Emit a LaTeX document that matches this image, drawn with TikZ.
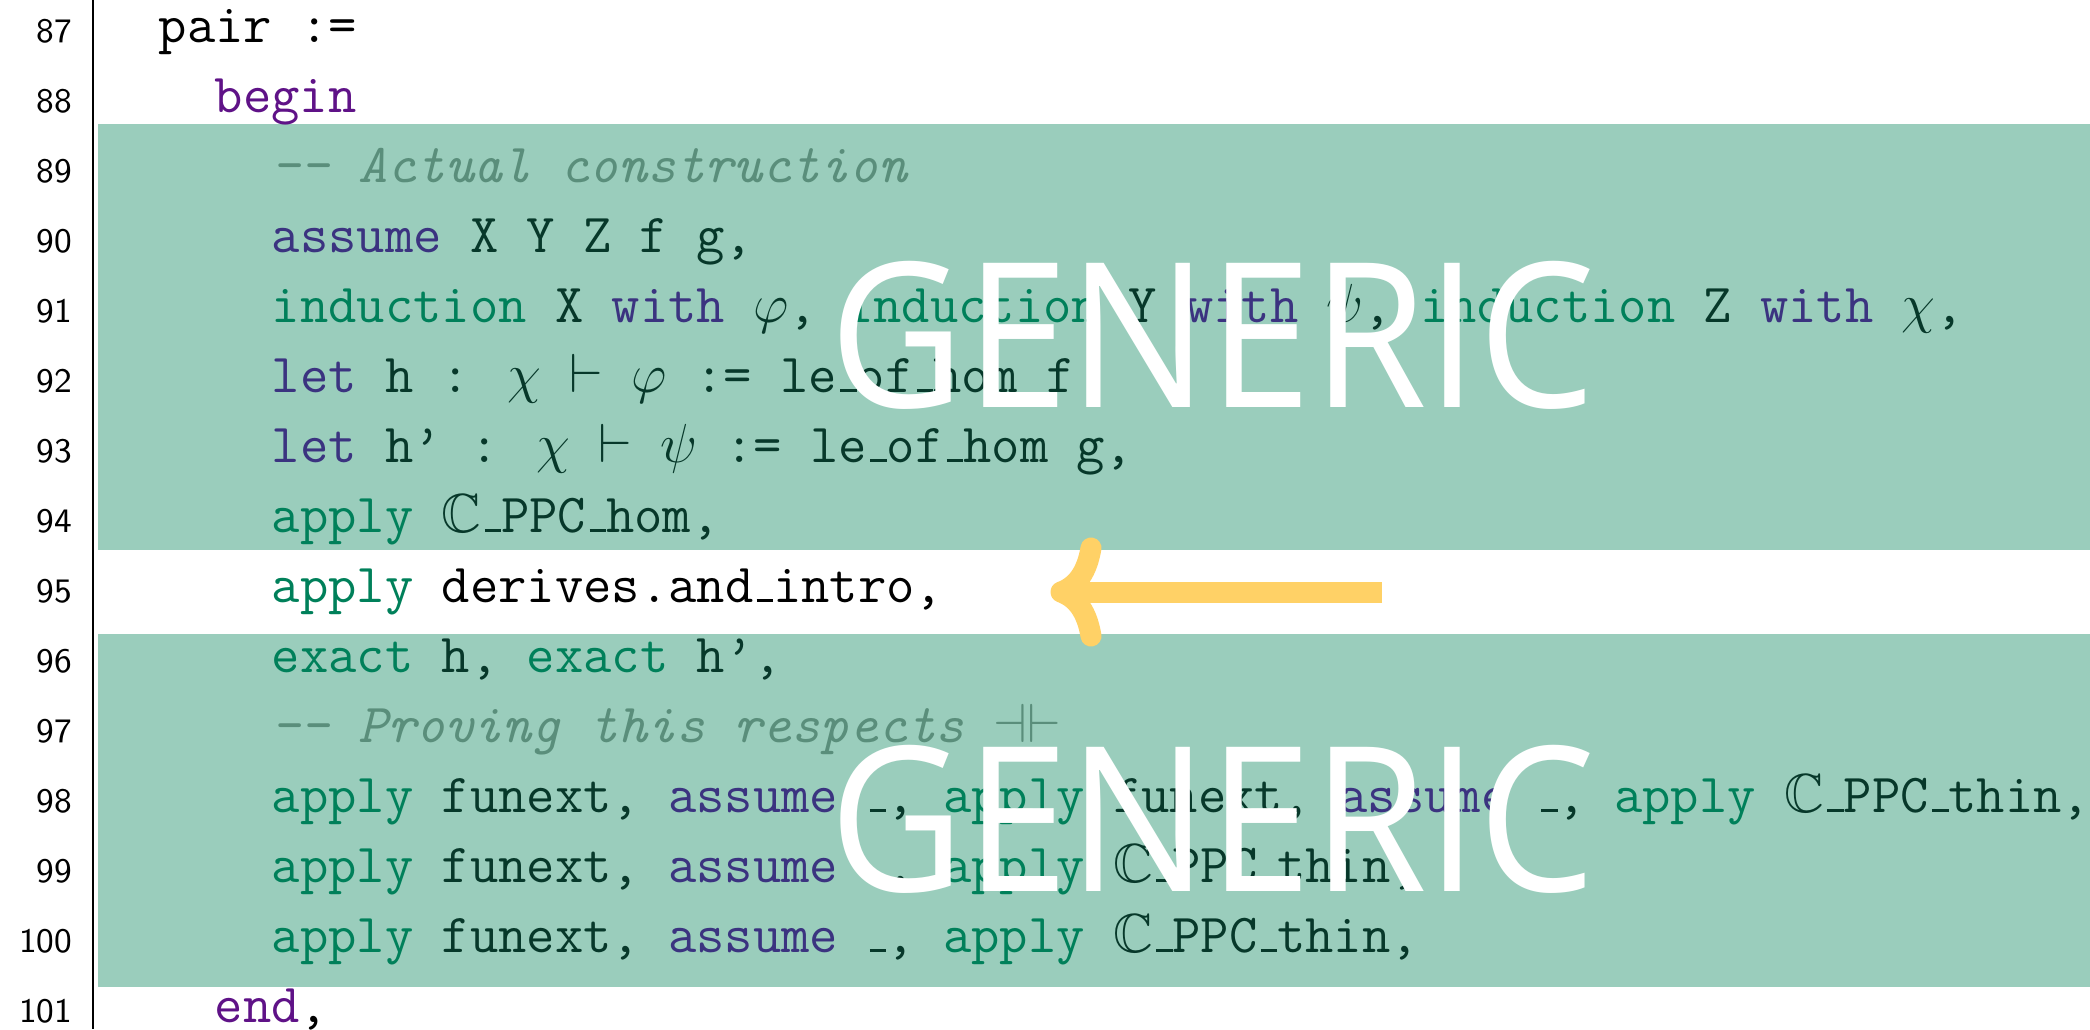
\RequirePackage{fix-cm}
\documentclass[tikz,border=0pt]{standalone}
\usepackage{amssymb}
\usepackage{fontspec}
\newfontfamily\genfont{Open Sans}

\definecolor{hlgreen}{HTML}{9ACDBC}
\definecolor{idgreen}{HTML}{07382A}
\definecolor{cmtgreen}{HTML}{5A8E7B}
\definecolor{kwgreen}{HTML}{00805A}
\definecolor{kwblue}{HTML}{3B3380}
\definecolor{kwpurple}{HTML}{5F1287}
\definecolor{arrowyellow}{HTML}{FFD166}

\newcommand\codefont{\fontsize{13.75}{16}\ttfamily}
\newcommand\numfont{\fontsize{8.6}{10}\sffamily}
\newcommand\gfont{\fontsize{50.5}{60}\genfont}
\newcommand\us{\kern.06em\vbox{\hrule height .06em width .3em}}
\newcommand\kwa[1]{\textcolor{kwgreen}{#1}}
\newcommand\kwb[1]{\textcolor{kwblue}{#1}}
\newcommand\kwc[1]{\textcolor{kwpurple}{#1}}
\newcommand\cmt[1]{\textcolor{cmtgreen}{\itshape #1}}

\begin{document}
\begin{tikzpicture}[x=0.25pt, y=-0.25pt,
  lnum/.style={anchor=base east, inner sep=0pt, font=\numfont},
  code/.style={anchor=base west, inner sep=0pt, font=\codefont},
  hl/.style={code, text=idgreen},
  generic/.style={anchor=base, inner sep=0pt, text=white, font=\gfont},
  arrowline/.style={draw=arrowyellow, line width=5.25pt}]
\useasboundingbox (0,0) rectangle (2090,1029);
% Draw highlight bands
\fill[hlgreen] (98,124) rectangle (2090,550);
\fill[hlgreen] (98,634) rectangle (2090,987);
% Draw gutter
\draw[line width=0.4pt] (93,0) -- (93,1029);
% Draw line numbers
\foreach \n in {87,...,101}
    \node[lnum] (n\n) at (73,{42+(\n-87)*70}) {\n};
% Draw code lines
\node[code] (l87) at (158,42) {pair :=};
\node[code] (l88) at (214,112) {\kwc{begin}};
\node[hl] (l89) at (271,182) {\cmt{-{}- Actual construction}};
\node[hl] (l90) at (271,252) {\kwb{assume} X Y Z f g,};
\node[hl] (l91) at (271,322) {\kwa{induction} X \kwb{with} $\varphi$, \kwa{induction} Y \kwb{with} $\psi$, \kwa{induction} Z \kwb{with} $\chi$,};
\node[hl] (l92) at (271,392) {\kwb{let} h : $\chi$ $\vdash$ $\varphi$ := le\us of\us hom f};
\node[hl] (l93) at (271,462) {\kwb{let} h’ : $\chi$ $\vdash$ $\psi$ := le\us of\us hom g,};
\node[hl] (l94) at (271,532) {\kwa{apply} $\mathbb{C}$\us PPC\us hom,};
\node[code] (l95) at (271,602) {\kwa{apply} derives.and\us intro,};
\node[hl] (l96) at (271,672) {\kwa{exact} h, \kwa{exact} h’,};
\node[hl] (l97) at (271,742) {\cmt{-{}- Proving this respects $\dashv\vdash$}};
\node[hl] (l98) at (271,812) {\kwa{apply} funext, \kwb{assume} \us, \kwa{apply} funext, \kwb{assume} \us, \kwa{apply} $\mathbb{C}$\us PPC\us thin,};
\node[hl] (l99) at (271,882) {\kwa{apply} funext, \kwb{assume} \us, \kwa{apply} $\mathbb{C}$\us PPC\us thin,};
\node[hl] (l100) at (271,952) {\kwa{apply} funext, \kwb{assume} \us, \kwa{apply} $\mathbb{C}$\us PPC\us thin,};
\node[code] (l101) at (214,1022) {\kwc{end},};
% Draw overlay labels
\node[generic] (g1) at (1213,407) {\scalebox{0.92}[1]{GENERIC}};
\node[generic] (g2) at (1213,891) {\scalebox{0.92}[1]{GENERIC}};
% Draw arrow
\coordinate (tail) at (1382,592);
\coordinate (tip) at (1061,592);
\draw[arrowline] (tail) -- (tip);
\draw[arrowline, line cap=round, line join=round] ([shift={(30,-44)}]tip) .. controls ([shift={(26,-20)}]tip) and ([shift={(16,-6)}]tip) .. (tip)
    .. controls ([shift={(16,6)}]tip) and ([shift={(26,20)}]tip) .. ([shift={(30,44)}]tip);
\end{tikzpicture}
\end{document}
